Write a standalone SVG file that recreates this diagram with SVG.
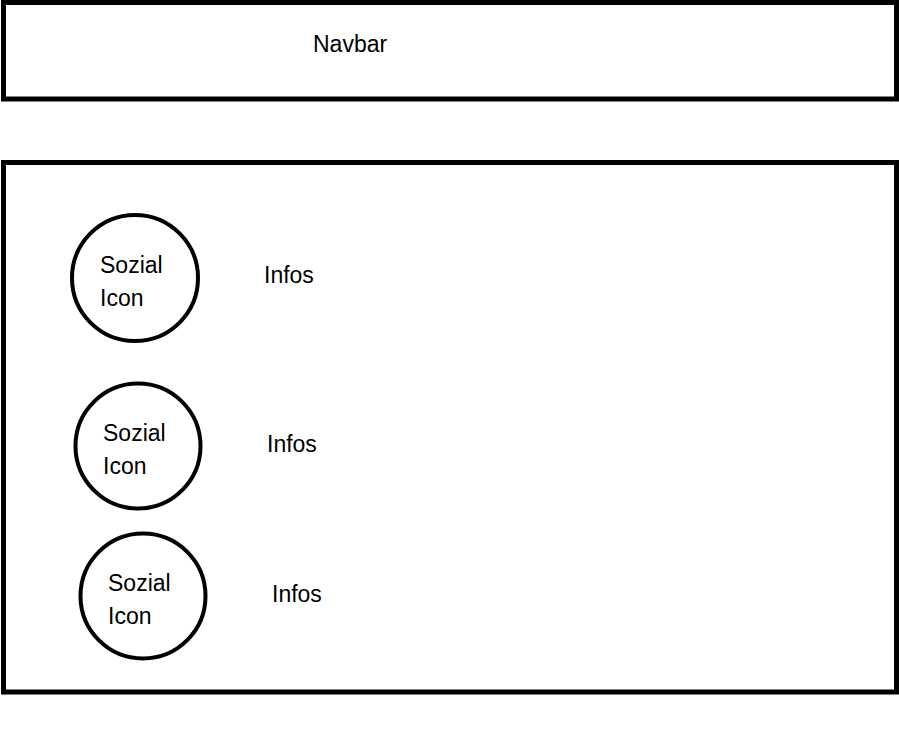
<svg xmlns="http://www.w3.org/2000/svg" width="899" height="743" viewBox="0 0 899 743">
<style>
.box{fill:none;stroke:#000;stroke-width:5}
.icon{fill:none;stroke:#000;stroke-width:4}
text{font-family:"Liberation Sans",Arial,sans-serif;font-size:23px;fill:#000}
</style>
<rect width="899" height="743" fill="#fff"/>
<g id="navbar">
<rect class="box" x="3.5" y="2.5" width="893" height="96.5"/>
<text x="313" y="52">Navbar</text>
</g>
<g id="content">
<rect class="box" x="3.5" y="162.5" width="893" height="529.5"/>
</g>
<g id="social1">
<circle class="icon" cx="135" cy="278" r="63"/>
<text x="100" y="273">Sozial</text>
<text x="100" y="306">Icon</text>
</g>
<g id="info1"><text x="264" y="283">Infos</text></g>
<g id="social2">
<circle class="icon" cx="138" cy="446" r="62.5"/>
<text x="103" y="441">Sozial</text>
<text x="103" y="474">Icon</text>
</g>
<g id="info2"><text x="267" y="452">Infos</text></g>
<g id="social3">
<circle class="icon" cx="143" cy="596" r="62.5"/>
<text x="108" y="591">Sozial</text>
<text x="108" y="624">Icon</text>
</g>
<g id="info3"><text x="272" y="602">Infos</text></g>
<g id="connectors"></g>
</svg>
